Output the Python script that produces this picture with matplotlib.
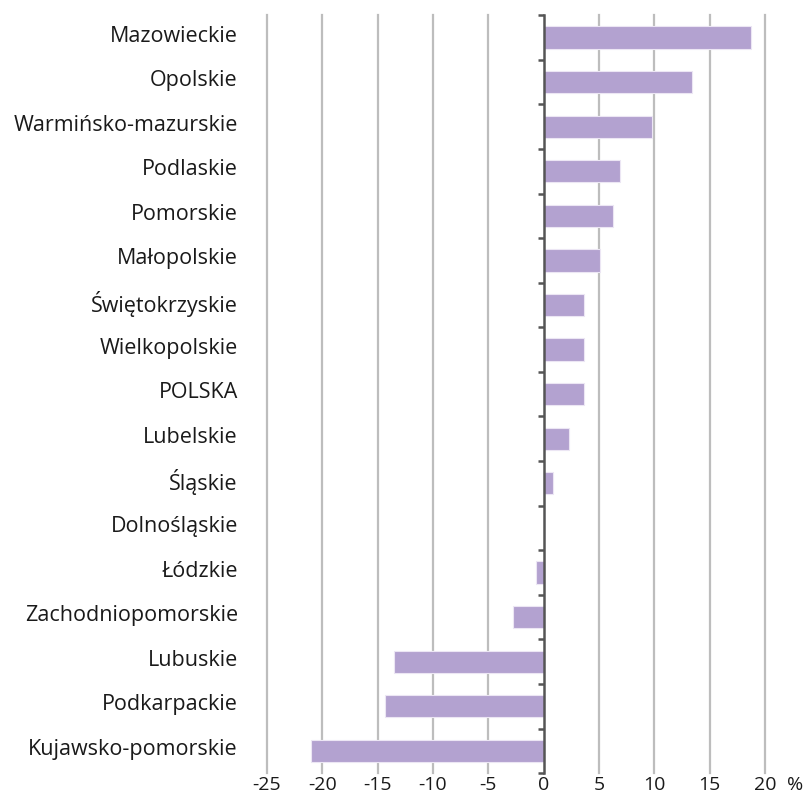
import numpy as np
import matplotlib.pyplot as plt
import matplotlib.transforms as mtransforms

plt.rcParams['font.family'] = ['Open Sans', 'DejaVu Sans']

regions = [
    "Mazowieckie", "Opolskie", "Warmińsko-mazurskie", "Podlaskie", "Pomorskie",
    "Małopolskie", "Świętokrzyskie", "Wielkopolskie", "POLSKA", "Lubelskie",
    "Śląskie", "Dolnośląskie", "Łódzkie", "Zachodniopomorskie", "Lubuskie",
    "Podkarpackie", "Kujawsko-pomorskie",
]
values = [18.7, 13.4, 9.8, 6.9, 6.3, 5.1, 3.6, 3.6, 3.6, 2.3,
          0.8, 0.0, -0.7, -2.8, -13.5, -14.3, -21.0]
xticks = [-25, -20, -15, -10, -5, 0, 5, 10, 15, 20]

BAR_COLOR = "#b3a2d0"
GRID_COLOR = "#bdbdbd"
AXIS_COLOR = "#555555"
TEXT_COLOR = "#1a1a1a"

fig = plt.figure(figsize=(8.05, 8.02), dpi=100)
ax = fig.add_axes([0.3317, 0.036, 0.6186, 0.945])

n = len(regions)
y = np.arange(n)[::-1]

ax.barh(y, values, height=0.5, color=BAR_COLOR, edgecolor="#ece6f4",
        linewidth=0.8, zorder=3)

ax.set_xlim(-25, 20)
ax.set_ylim(-0.5, n - 0.5)

for t in xticks:
    if t != 0:
        ax.axvline(t, color=GRID_COLOR, linewidth=1.6, zorder=1, clip_on=False)

# zero axis with category separator ticks
ax.axvline(0, color=AXIS_COLOR, linewidth=1.8, zorder=4, clip_on=False)
bounds = np.arange(n + 1) - 0.5
ax.hlines(bounds, -0.55, 0, color=AXIS_COLOR, linewidth=1.8, zorder=4,
          clip_on=False)

for s in ax.spines.values():
    s.set_visible(False)

ax.set_yticks(y)
ax.set_yticklabels(regions, fontsize=15.5, color=TEXT_COLOR)
ax.tick_params(axis="y", length=0, pad=21)
shift = mtransforms.ScaledTranslation(0, 4 / 100, fig.dpi_scale_trans)
for lbl in ax.get_yticklabels():
    lbl.set_transform(lbl.get_transform() + shift)

ax.set_xticks(xticks)
ax.set_xticklabels([str(t) for t in xticks], fontsize=14, color=TEXT_COLOR)
ax.tick_params(axis="x", length=0, pad=2)

ax.annotate("%", xy=(20, 0), xycoords=("data", "axes fraction"),
            xytext=(22, -2), textcoords="offset points", fontsize=14,
            color=TEXT_COLOR, ha="center", va="top")

fig.savefig("out.png", dpi=100)
